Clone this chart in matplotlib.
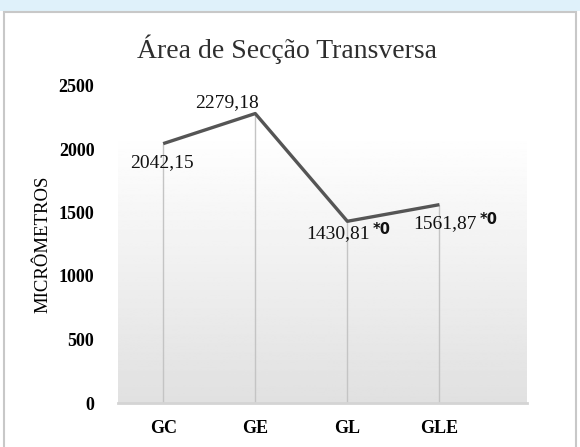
import matplotlib.pyplot as plt
import numpy as np
from matplotlib.patches import Rectangle

# data
groups = ["GC", "GE", "GL", "GLE"]
area = [2042.15, 2279.18, 1430.81, 1561.87]
value_labels = ["2042,15", "2279,18", "1430,81", "1561,87"]
marks = ["", "", "*0", "*0"]
yticks = [0, 500, 1000, 1500, 2000, 2500]

serif = "Liberation Serif"

fig = plt.figure(figsize=(5.8, 4.47), dpi=100)
fig.patch.set_facecolor("white")

# light blue band on top + grey frame
fig.add_artist(Rectangle((0, 1 - 11 / 447), 1, 11 / 447, transform=fig.transFigure,
                         facecolor="#dff1fa", edgecolor="none"))
fig.add_artist(Rectangle((4 / 580, -0.01), 572 / 580, 1 - 12 / 447 + 0.01,
                         transform=fig.transFigure, facecolor="none",
                         edgecolor="#c8c8c8", linewidth=1.5))

ax = fig.add_axes([118 / 580, 1 - 403 / 447, 409 / 580, (403 - 85.5) / 447])
x = np.arange(len(groups))
xlim = (-0.49, 3.95)
ax.set_xlim(*xlim)
ax.set_ylim(0, 2500)

# soft grey gradient behind the plot
grad = np.linspace(0.88, 1.0, 256).reshape(-1, 1)
ax.imshow(grad, extent=[xlim[0], xlim[1], 0, 2130], origin="lower", aspect="auto",
          cmap="gray", vmin=0, vmax=1, zorder=0)

# drop lines from each point
ax.vlines(x, 0, area, color="#c4c4c4", linewidth=1, zorder=1)
ax.plot(x, area, color="#555555", linewidth=2.4, solid_capstyle="butt", zorder=3)

for s in ["top", "right", "left"]:
    ax.spines[s].set_visible(False)
ax.spines["bottom"].set_color("#d4d4d4")
ax.spines["bottom"].set_linewidth(2)

ax.set_xticks(x)
ax.set_xticklabels(groups)
ax.set_yticks(yticks)
ax.tick_params(length=0, labelsize=13, pad=12)
ax.tick_params(axis="y", pad=17)
for lab in ax.get_xticklabels() + ax.get_yticklabels():
    lab.set_fontfamily(serif)
    lab.set_fontweight("bold")

ax.set_ylabel("MICRÔMETROS", fontfamily=serif, fontsize=13.5, labelpad=5)

# value labels (offsets in points)
offsets = [(-1, -14), (-20, 8), (-7, -9), (4, -14)]
for xi, yi, txt, mk, (dx, dy) in zip(x, area, value_labels, marks, offsets):
    t = ax.annotate(txt, (xi, yi), xytext=(dx, dy), textcoords="offset points",
                    ha="center", va="center", fontfamily=serif, fontsize=14,
                    color="#111111", zorder=4)
    if mk:
        ax.annotate(mk, xy=(1, 0.5), xycoords=t, xytext=(2, 3), textcoords="offset points",
                    ha="left", va="center", fontfamily="DejaVu Sans", fontweight="bold",
                    fontsize=10.5, color="#111111", zorder=4)

fig.text(287 / 580, 1 - 49 / 447, "Área de Secção Transversa", ha="center", va="center",
         fontfamily=serif, fontsize=20, color="#2e2e2e")

fig.savefig("out.png", dpi=100)
